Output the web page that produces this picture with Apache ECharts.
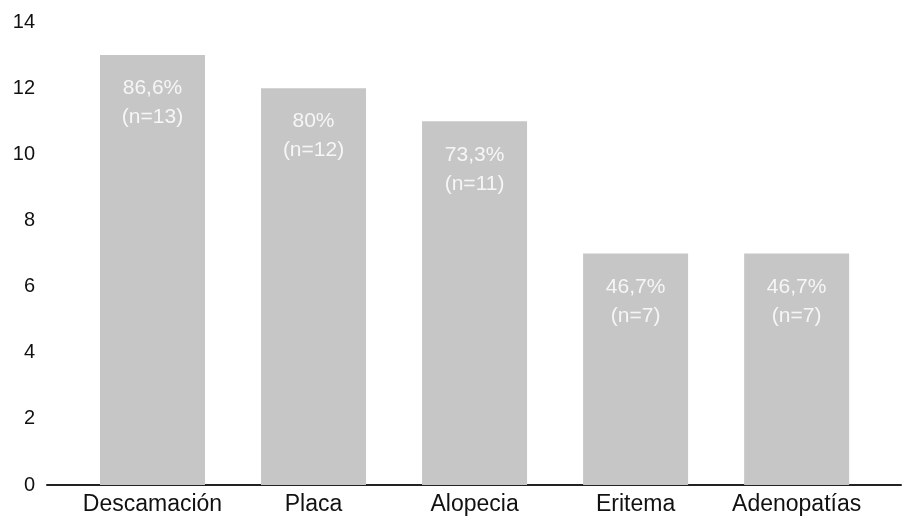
<!DOCTYPE html>
<html><head><meta charset="utf-8">
<script src="https://cdn.jsdelivr.net/npm/echarts@6/dist/echarts.min.js"></script>
<style>html,body{margin:0;padding:0;background:#fff}#c{width:903px;height:518px}</style>
</head><body><div id="c"></div>
<script>
const categories = ['Descamación', 'Placa', 'Alopecia', 'Eritema', 'Adenopatías'];
const counts = [13, 12, 11, 7, 7];
const percents = ['86,6%', '80%', '73,3%', '46,7%', '46,7%'];
const yTicks = [0, 2, 4, 6, 8, 10, 12, 14];

const chart = echarts.init(document.getElementById('c'), null, {renderer: 'canvas'});
const font = 'Liberation Sans, Arial, Helvetica, sans-serif';
chart.setOption({
  animation: false,
  grid: {left: 47, right: 2, top: 22, bottom: 33},
  xAxis: {
    type: 'value', min: -0.655, max: 4.648,
    axisLine: {show: true, lineStyle: {color: '#222', width: 2}},
    axisTick: {show: false},
    splitLine: {show: false},
    axisLabel: {
      customValues: [0, 1, 2, 3, 4],
      formatter: v => categories[Math.round(v)],
      color: '#111', fontSize: 23, fontFamily: font, margin: 8
    }
  },
  yAxis: {
    type: 'value', min: 0, max: 14, interval: 2,
    axisLine: {show: false}, axisTick: {show: false}, splitLine: {show: false},
    axisLabel: {color: '#111', fontSize: 20, fontFamily: font, margin: 12,
      formatter: v => yTicks.includes(v) ? String(v) : ''}
  },
  series: [{
    type: 'bar',
    barWidth: 105,
    data: counts.map((v, i) => [i, v]),
    itemStyle: {color: '#c6c6c6'},
    label: {
      show: true, position: 'insideTop', distance: 19,
      formatter: p => percents[p.dataIndex] + '\n(n=' + counts[p.dataIndex] + ')',
      color: '#f6f6f6', fontSize: 21, lineHeight: 29, fontFamily: font
    }
  }]
});
</script></body></html>
